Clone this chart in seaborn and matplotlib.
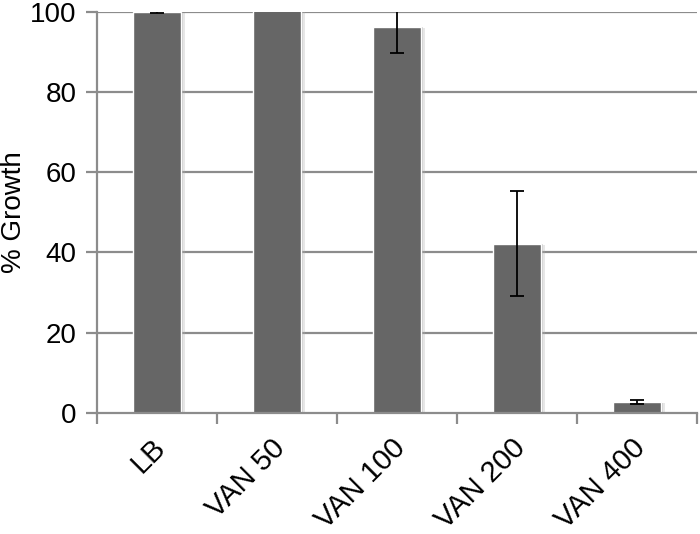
import numpy as np
import pandas as pd
import matplotlib
matplotlib.use("Agg")
import matplotlib.pyplot as plt
import matplotlib.patheffects as pe
import matplotlib.transforms as mtransforms
from matplotlib.ticker import FixedLocator
import seaborn as sns

# values
conditions = ["LB", "VAN 50", "VAN 100", "VAN 200", "VAN 400"]
growth = [100.0, 102.0, 96.3, 42.2, 2.7]
growth_err = [0.2, 1.5, 6.5, 13.0, 0.4]

df = pd.DataFrame({"condition": conditions, "growth": growth, "err": growth_err})

sns.set_style("white")
plt.rcParams["font.family"] = ["Liberation Sans", "DejaVu Sans"]

fig = plt.figure(figsize=(7, 5.34), dpi=100)
ax = fig.add_axes([0.139, 0.227, 0.857, 0.751])

grid_col = "#8c8c8c"
for y in [20, 40, 60, 80, 100]:
    ax.axhline(y, color=grid_col, lw=1.6, zorder=0)

sns.barplot(data=df, x="condition", y="growth", color="#666666", width=0.4,
            saturation=1, errorbar=None, ax=ax, zorder=2)
for p in ax.patches:
    p.set_path_effects([pe.SimplePatchShadow(offset=(2.5, -1), shadow_rgbFace="#b0b0b0", alpha=0.3),
                        pe.SimplePatchShadow(offset=(1.2, -0.5), shadow_rgbFace="#909090", alpha=0.3),
                        pe.Normal()])

ax.errorbar(np.arange(len(conditions)), df["growth"], yerr=df["err"], fmt="none",
            ecolor="black", elinewidth=1.3, capsize=5, capthick=1.3, zorder=3)

ax.set_xlim(-0.5, len(conditions) - 0.5)
ax.set_ylim(0, 100)
ax.set_yticks([0, 20, 40, 60, 80, 100])
ax.set_xlabel("")
ax.set_ylabel("% Growth", fontsize=20, color="black")
ax.yaxis.set_label_coords(-0.118, 0.5)

for s in ["top", "right"]:
    ax.spines[s].set_visible(False)
for s in ["left", "bottom"]:
    ax.spines[s].set_color(grid_col)
    ax.spines[s].set_linewidth(1.6)

ax.tick_params(axis="y", which="major", direction="out", length=8, width=1.6,
               color=grid_col, labelsize=20, labelcolor="black", left=True, pad=7)
ax.tick_params(axis="x", which="major", length=0, labelsize=21, labelcolor="black", pad=15)
ax.xaxis.set_minor_locator(FixedLocator(np.arange(-0.5, len(conditions), 1.0)))
ax.tick_params(axis="x", which="minor", direction="out", length=8, width=1.6,
               color=grid_col, bottom=True)
shift = mtransforms.ScaledTranslation(-6 / 100, 0, fig.dpi_scale_trans)
for lab in ax.get_xticklabels():
    lab.set_rotation(45)
    lab.set_ha("right")
    lab.set_va("top")
    lab.set_rotation_mode("anchor")
    lab.set_transform(lab.get_transform() + shift)

fig.savefig("out.png", dpi=100)
